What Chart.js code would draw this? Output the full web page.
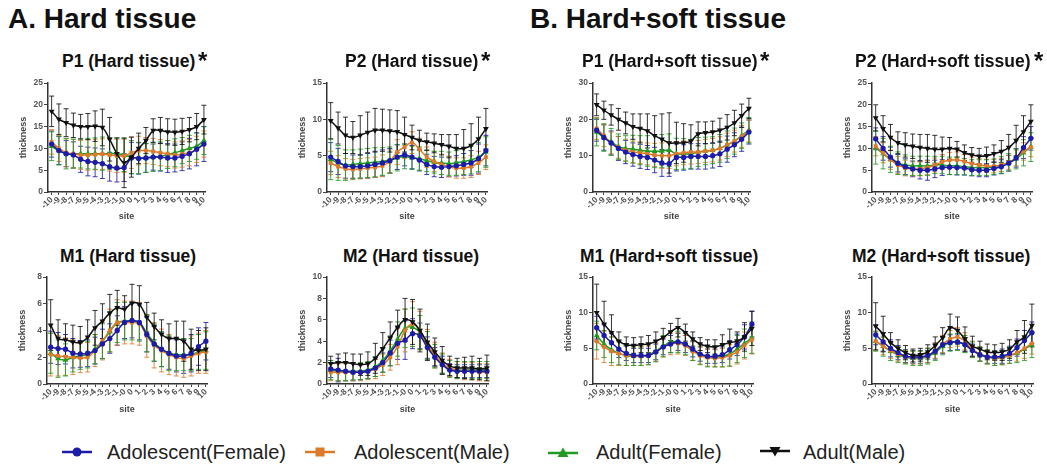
<!DOCTYPE html>
<html><head><meta charset="utf-8">
<script src="https://cdn.jsdelivr.net/npm/chart.js@4"></script>
<style>
body{margin:0;background:#fff;width:1047px;height:474px;position:relative;overflow:hidden;font-family:"Liberation Sans",Arial,sans-serif;}
.main{position:absolute;font-weight:bold;font-size:28px;line-height:30px;color:#111;top:4px;white-space:nowrap;}
.ptitle{position:absolute;font-weight:bold;font-size:17.5px;line-height:20px;color:#111;white-space:nowrap;}
.star{position:absolute;font-weight:bold;font-size:24px;line-height:24px;color:#111;}
canvas{position:absolute;}
.leg{position:absolute;top:440px;font-size:20px;line-height:24px;color:#222;white-space:nowrap;}
.legm{position:absolute;top:445px;}
</style></head>
<body>
<div class="main" style="left:8px">A. Hard tissue</div>
<div class="main" style="left:530px">B. Hard+soft tissue</div>
<div id="wrap"></div>

<svg class="legm" style="left:62px" width="30" height="14"><line x1="0" y1="7" x2="30" y2="7" stroke="#1c1ca8" stroke-width="2.5"/><circle cx="15" cy="7" r="4.5" fill="#1c1ca8"/></svg>
<div class="leg" style="left:107px">Adolescent(Female)</div>
<svg class="legm" style="left:305px" width="30" height="14"><line x1="0" y1="7" x2="30" y2="7" stroke="#dd7a2a" stroke-width="2.5"/><rect x="10.5" y="2.5" width="9" height="9" fill="#dd7a2a"/></svg>
<div class="leg" style="left:354px">Adolescent(Male)</div>
<svg class="legm" style="left:548px" width="30" height="14"><line x1="0" y1="8" x2="30" y2="8" stroke="#229a22" stroke-width="2.5"/><polygon points="15,2.5 20.5,12 9.5,12" fill="#229a22"/></svg>
<div class="leg" style="left:596px">Adult(Female)</div>
<svg class="legm" style="left:760px" width="30" height="14"><line x1="0" y1="6" x2="30" y2="6" stroke="#111" stroke-width="2.5"/><polygon points="9.5,2 20.5,2 15,11.5" fill="#111"/></svg>
<div class="leg" style="left:803px">Adult(Male)</div>

<script>
const sites = ["-10","-9","-8","-7","-6","-5","-4","-3","-2","-1","-0","0","1","2","3","4","5","6","7","8","9","10"];
const seriesNames = ["Adolescent(Female)","Adolescent(Male)","Adult(Female)","Adult(Male)"];
const seriesColors = ["#1c1ca8","#dd7a2a","#229a22","#111111"];

// ---- A. Hard tissue, P1 ----
const hP1_adoF = [11.0,9.5,8.8,8.5,7.5,7.0,6.8,6.5,5.8,5.5,5.6,7.8,7.7,7.8,8.0,8.0,7.8,7.8,8.2,8.8,9.8,11.0];
const hP1_adoM = [11.5,10.0,9.0,8.8,8.5,8.5,8.6,8.7,8.5,8.3,8.3,9.0,9.5,9.5,9.3,9.0,8.8,8.5,8.7,9.0,9.8,11.0];
const hP1_aduF = [10.5,9.5,8.8,8.8,8.8,8.8,8.8,8.8,8.8,8.8,8.5,8.0,7.8,7.8,8.0,8.2,8.6,9.0,9.5,10.0,10.5,11.8];
const hP1_aduM = [18.5,16.7,15.9,15.3,15.0,15.0,15.1,14.8,12.1,8.8,6.7,8.0,10.0,11.8,14.1,14.1,13.8,13.7,13.9,14.3,15.0,16.6];
const hP1_adoF_sd = [3.0,3.2,3.0,3.0,3.0,3.3,3.3,3.4,3.3,3.2,3.2,3.6,3.6,3.3,3.0,3.2,3.3,3.2,3.3,3.5,3.8,4.0];
const hP1_adoM_sd = [2.8,3.0,3.2,3.3,3.3,3.5,3.5,3.5,3.7,3.8,3.8,3.6,3.3,3.0,3.0,3.0,3.0,3.0,3.0,3.0,3.0,3.0];
const hP1_aduF_sd = [3.3,3.3,3.5,3.3,3.3,3.5,3.6,3.8,3.6,3.6,3.8,3.8,3.6,3.3,3.3,3.3,3.2,3.2,3.0,3.0,3.0,3.2];
const hP1_aduM_sd = [3.5,3.5,3.2,2.8,2.8,3.0,3.5,4.2,5.0,3.6,5.7,4.6,3.5,3.0,2.7,3.0,3.0,3.0,3.0,2.8,3.0,3.3];

// ---- A. Hard tissue, P2 ----
const hP2_adoF = [4.8,4.2,3.6,3.5,3.5,3.6,3.8,4.0,4.3,4.8,5.1,4.8,4.4,3.8,3.5,3.4,3.5,3.6,3.8,4.0,4.6,5.7];
const hP2_adoM = [4.0,3.5,3.2,3.1,3.2,3.3,3.4,3.6,4.2,5.5,6.2,6.8,5.9,4.8,4.2,3.8,3.5,3.3,3.3,3.5,4.0,4.8];
const hP2_aduF = [4.5,4.0,3.7,3.8,3.9,4.0,4.1,4.2,4.4,4.7,4.9,4.7,4.6,4.3,4.1,4.0,3.9,4.0,4.2,4.4,4.8,5.5];
const hP2_aduM = [9.8,8.8,7.8,7.5,7.8,8.2,8.5,8.5,8.4,8.3,7.9,7.5,7.1,6.9,6.7,6.5,6.3,6.0,6.0,6.4,7.3,8.7];
const hP2_adoF_sd = [2.0,1.8,1.7,1.6,1.6,1.7,1.8,1.8,1.7,1.7,1.5,1.6,1.5,1.4,1.4,1.4,1.4,1.4,1.5,1.7,2.0,2.1];
const hP2_adoM_sd = [1.6,1.5,1.4,1.4,1.4,1.4,1.4,1.5,1.6,1.7,1.6,1.5,1.5,1.4,1.4,1.4,1.4,1.4,1.4,1.5,1.6,1.7];
const hP2_aduF_sd = [2.8,2.4,2.1,2.0,2.0,2.0,2.0,1.9,1.8,1.8,1.7,1.6,1.6,1.5,1.5,1.6,1.6,1.7,1.8,1.9,2.0,2.1];
const hP2_aduM_sd = [2.5,2.2,2.5,2.2,2.7,2.8,3.0,2.9,2.9,2.9,2.4,1.7,1.4,1.2,1.3,1.4,1.6,1.9,2.6,3.0,3.0,2.8];

// ---- A. Hard tissue, M1 ----
const hM1_adoF = [2.75,2.65,2.6,2.3,2.25,2.3,2.5,3.0,3.4,4.0,4.6,4.75,4.6,3.7,3.0,2.6,2.3,2.1,2.1,2.3,2.8,3.2];
const hM1_adoM = [2.2,2.1,2.05,2.0,1.95,2.0,2.5,3.2,4.0,4.6,4.6,4.6,4.5,3.6,2.9,2.5,2.2,2.0,1.9,2.1,2.3,2.4];
const hM1_aduF = [2.3,1.9,1.8,2.0,2.1,2.2,2.6,3.2,3.9,4.6,4.7,4.7,4.6,3.8,3.1,2.6,2.3,2.2,2.2,2.2,2.4,2.5];
const hM1_aduM = [4.4,3.4,3.3,3.15,3.1,3.5,4.2,4.7,5.3,5.7,5.6,6.05,5.95,5.0,4.3,3.7,3.4,3.4,3.2,2.6,2.5,2.6];
const hM1_adoF_sd = [1.2,1.2,1.1,1.1,1.0,1.0,1.0,1.1,1.1,1.1,1.2,1.3,1.3,1.3,1.3,1.3,1.2,1.2,1.3,1.4,1.4,1.4];
const hM1_adoM_sd = [1.6,1.5,1.4,1.3,1.1,1.1,1.2,1.4,1.6,1.7,1.6,1.6,1.6,1.6,1.7,1.6,1.5,1.4,1.4,1.5,1.5,1.6];
const hM1_aduF_sd = [1.5,1.4,1.2,1.1,1.0,1.0,1.1,1.3,1.5,1.5,1.4,1.4,1.4,1.4,1.4,1.3,1.3,1.2,1.2,1.2,1.3,1.4];
const hM1_aduM_sd = [1.9,1.4,1.2,1.25,1.2,1.3,1.3,1.3,1.4,1.3,1.0,1.4,1.4,1.1,1.0,1.1,1.1,1.3,1.5,1.5,1.5,1.6];

// ---- A. Hard tissue, M2 ----
const hM2_adoF = [1.4,1.3,1.2,1.1,1.1,1.2,1.5,2.0,2.9,3.8,4.1,4.7,4.5,3.4,2.5,1.8,1.3,1.2,1.2,1.2,1.2,1.2];
const hM2_adoM = [1.1,1.1,1.1,1.1,1.1,1.2,1.4,1.8,2.5,3.5,5.0,5.6,5.0,3.7,2.7,1.9,1.5,1.3,1.2,1.2,1.1,1.1];
const hM2_aduF = [1.3,1.2,1.2,1.2,1.2,1.3,1.6,2.2,3.1,4.2,5.2,5.3,4.8,3.6,2.6,1.9,1.4,1.3,1.3,1.3,1.3,1.3];
const hM2_aduM = [1.9,2.0,2.0,1.9,1.8,1.9,2.4,3.3,4.3,5.3,6.0,5.8,5.0,3.9,3.0,2.2,1.7,1.5,1.5,1.5,1.4,1.5];
const hM2_adoF_sd = [0.8,1.1,0.9,0.8,0.7,0.7,0.8,0.9,1.2,1.5,1.8,1.4,1.2,1.0,0.9,0.8,0.6,0.6,0.6,0.6,0.6,0.6];
const hM2_adoM_sd = [0.8,0.8,0.8,0.8,0.8,0.8,0.9,1.0,1.2,1.7,2.0,2.1,1.8,1.4,1.2,1.0,0.8,0.8,0.8,0.8,0.8,0.8];
const hM2_aduF_sd = [0.9,0.9,0.9,0.8,0.8,0.8,0.9,1.1,1.4,1.6,1.8,1.8,1.6,1.3,1.1,0.9,0.8,0.8,0.8,0.8,0.8,0.8];
const hM2_aduM_sd = [0.7,0.8,0.9,0.9,1.0,1.1,1.4,1.5,1.5,1.6,2.0,2.1,2.0,1.7,1.3,1.3,0.9,0.9,1.0,1.1,1.0,1.2];

// ---- B. Hard+soft tissue, P1 ----
const sP1_adoF = [17.0,15.0,13.5,12.0,11.0,10.3,9.8,9.5,8.8,8.0,7.8,9.5,9.5,9.8,9.8,9.8,10.0,10.5,11.8,13.0,14.5,16.5];
const sP1_adoM = [17.5,15.5,13.5,12.3,11.5,11.0,10.8,10.5,10.2,10.0,10.0,10.5,10.8,11.0,11.0,11.3,11.5,12.0,13.0,14.0,15.3,16.8];
const sP1_aduF = [16.5,15.0,13.8,12.5,12.0,11.8,11.5,11.3,11.2,11.3,11.5,10.5,10.5,10.5,11.0,11.3,11.5,12.0,13.0,14.0,15.5,17.0];
const sP1_aduM = [24.0,22.5,21.2,20.0,19.0,18.0,17.5,16.8,15.5,14.5,13.5,13.5,13.5,14.0,16.0,16.3,16.5,17.0,17.8,19.0,21.0,23.0];
const sP1_adoF_sd = [3.0,3.5,3.3,3.3,3.2,3.2,3.3,3.3,3.5,3.7,3.5,3.7,3.5,3.5,3.5,3.5,3.4,3.5,3.6,3.3,3.3,3.3];
const sP1_adoM_sd = [3.0,3.0,3.0,3.0,3.0,3.0,3.0,3.0,3.2,3.5,3.5,3.3,3.3,3.3,3.2,3.2,3.2,3.2,3.2,3.0,3.0,3.0];
const sP1_aduF_sd = [3.8,3.8,3.7,3.5,3.5,3.8,4.0,4.2,4.5,4.5,4.5,4.3,4.2,4.0,4.0,3.8,3.7,3.8,3.8,3.6,3.5,3.5];
const sP1_aduM_sd = [3.0,2.5,2.8,3.0,3.0,3.5,4.0,4.7,5.5,7.0,8.3,5.7,5.3,4.5,3.3,3.0,3.0,3.3,3.5,3.5,3.2,2.8];

// ---- B. Hard+soft tissue, P2 ----
const sP2_adoF = [12.2,10.0,8.0,6.6,5.8,5.3,5.0,5.0,5.3,5.6,5.7,5.6,5.5,5.1,5.0,5.0,5.4,5.8,6.6,7.8,10.2,12.3];
const sP2_adoM = [10.5,9.0,7.4,6.2,5.5,5.3,5.3,5.6,6.2,6.9,7.3,7.4,7.0,6.5,6.2,6.0,5.9,6.2,6.8,7.8,9.3,10.3];
const sP2_aduF = [10.2,8.8,7.5,6.6,6.2,6.0,6.0,6.0,6.2,6.2,6.0,6.0,5.8,5.6,5.6,5.6,5.8,6.2,6.8,7.6,9.0,10.3];
const sP2_aduM = [17.0,14.5,12.5,11.3,10.8,10.5,10.2,10.0,9.8,9.8,10.0,9.8,9.0,8.5,8.2,8.3,8.8,9.3,10.2,11.8,13.8,16.2];
const sP2_adoF_sd = [2.5,2.7,2.3,2.0,1.8,1.8,2.0,2.3,2.0,1.8,1.7,1.7,1.6,1.4,1.5,1.5,1.5,1.6,1.8,2.1,2.5,2.7];
const sP2_adoM_sd = [2.2,2.3,2.2,2.0,1.8,1.6,1.6,1.6,1.6,1.7,1.8,1.8,1.6,1.5,1.5,1.5,1.5,1.5,1.6,1.8,2.0,2.2];
const sP2_aduF_sd = [3.8,3.5,3.0,2.6,2.3,2.2,2.2,2.2,2.0,2.0,2.0,2.0,1.9,1.8,1.8,1.8,1.8,1.9,2.0,2.3,3.0,3.3];
const sP2_aduM_sd = [3.0,3.0,3.0,2.5,2.8,2.8,3.0,3.2,3.2,2.8,2.5,1.8,1.8,1.7,1.8,2.0,2.0,2.5,3.0,3.5,3.7,3.8];

// ---- B. Hard+soft tissue, M1 ----
const sM1_adoF = [7.9,6.8,5.8,4.9,4.3,4.0,4.0,4.0,4.5,5.2,5.6,5.9,5.6,4.9,4.2,3.9,3.9,4.1,4.8,5.5,6.6,8.4];
const sM1_adoM = [6.0,5.2,4.6,4.3,4.0,3.9,3.9,4.0,4.5,5.2,5.6,5.7,5.4,4.6,4.0,3.7,3.6,3.7,4.0,4.5,5.4,6.2];
const sM1_aduF = [6.8,5.6,4.8,4.3,4.0,3.9,3.9,4.1,4.6,5.3,5.9,5.9,5.6,4.7,4.1,3.8,3.8,3.9,4.2,4.9,5.7,6.5];
const sM1_aduM = [10.0,8.4,7.2,6.0,5.5,5.4,5.5,5.6,6.0,6.5,7.3,7.9,7.2,6.3,5.6,5.3,5.2,5.5,5.8,6.0,6.6,7.8];
const sM1_adoF_sd = [1.6,1.5,1.3,1.2,1.0,1.0,1.0,1.0,1.1,1.1,1.2,1.2,1.2,1.1,1.0,1.0,1.0,1.1,1.3,1.5,1.7,1.8];
const sM1_adoM_sd = [2.5,2.2,2.0,1.7,1.4,1.3,1.3,1.3,1.3,1.4,1.5,1.5,1.4,1.3,1.2,1.2,1.2,1.3,1.5,1.7,1.9,2.0];
const sM1_aduF_sd = [2.0,1.9,1.8,1.6,1.4,1.3,1.3,1.4,1.5,1.5,1.5,1.5,1.5,1.4,1.4,1.4,1.4,1.5,1.7,1.9,2.0,2.2];
const sM1_aduM_sd = [4.0,3.2,2.5,1.3,1.1,1.1,1.1,1.2,1.3,1.3,1.2,1.3,1.2,1.0,0.9,0.9,1.0,1.4,1.9,1.3,2.0,2.4];

// ---- B. Hard+soft tissue, M2 ----
const sM2_adoF = [6.9,5.9,5.0,4.4,3.9,3.8,3.8,4.0,4.6,5.5,5.8,5.9,5.5,4.7,4.1,3.8,3.8,3.9,4.3,5.1,6.1,7.2];
const sM2_adoM = [6.0,5.3,4.7,4.2,3.8,3.7,3.7,4.0,4.7,5.6,6.3,6.6,6.0,4.9,4.2,3.8,3.6,3.7,4.0,4.4,5.0,5.7];
const sM2_aduF = [6.0,5.3,4.6,4.1,3.8,3.6,3.6,3.9,4.4,5.3,5.8,5.9,5.6,4.8,4.2,3.8,3.6,3.7,4.0,4.3,4.9,5.5];
const sM2_aduM = [8.1,7.0,5.8,5.0,4.4,4.0,4.1,4.5,5.4,6.5,7.9,7.5,6.3,5.3,4.9,4.5,4.4,4.5,4.9,5.9,6.6,8.2];
const sM2_adoF_sd = [1.4,1.3,1.2,1.0,0.9,0.9,0.9,1.0,1.1,1.2,1.1,1.1,1.0,0.9,0.9,0.9,0.9,1.0,1.0,1.2,1.4,1.5];
const sM2_adoM_sd = [1.3,1.2,1.1,1.0,0.9,0.9,0.9,1.0,1.1,1.2,1.2,1.3,1.2,1.1,1.0,1.0,1.0,1.0,1.1,1.2,1.4,1.5];
const sM2_aduF_sd = [1.4,1.4,1.3,1.1,1.0,1.0,1.0,1.1,1.1,1.2,1.2,1.2,1.2,1.1,1.0,1.0,1.0,1.0,1.1,1.3,1.6,1.8];
const sM2_aduM_sd = [3.3,2.5,1.4,1.2,1.0,0.9,0.9,1.0,1.2,1.4,1.9,1.9,1.7,1.4,1.1,1.1,1.1,1.2,1.3,1.6,2.3,3.0];

// Panel layout (chart-area pixel boxes)
const panels = [
  {title:"P1 (Hard tissue)", star:true, tL:62, sL:198, row:0, aL:48, aR:205, ymax:25, step:5,
   means:[hP1_adoF,hP1_adoM,hP1_aduF,hP1_aduM], sds:[hP1_adoF_sd,hP1_adoM_sd,hP1_aduF_sd,hP1_aduM_sd]},
  {title:"P2 (Hard tissue)", star:true, tL:345, sL:481, row:0, aL:327, aR:487, ymax:15, step:5,
   means:[hP2_adoF,hP2_adoM,hP2_aduF,hP2_aduM], sds:[hP2_adoF_sd,hP2_adoM_sd,hP2_aduF_sd,hP2_aduM_sd]},
  {title:"P1 (Hard+soft tissue)", star:true, tL:582, sL:760, row:0, aL:593, aR:750, ymax:30, step:10,
   means:[sP1_adoF,sP1_adoM,sP1_aduF,sP1_aduM], sds:[sP1_adoF_sd,sP1_adoM_sd,sP1_aduF_sd,sP1_aduM_sd]},
  {title:"P2 (Hard+soft tissue)", star:true, tL:855, sL:1034, row:0, aL:872, aR:1032, ymax:25, step:5,
   means:[sP2_adoF,sP2_adoM,sP2_aduF,sP2_aduM], sds:[sP2_adoF_sd,sP2_adoM_sd,sP2_aduF_sd,sP2_aduM_sd]},
  {title:"M1 (Hard tissue)", star:false, tL:60, row:1, aL:47, aR:207, ymax:8, step:2,
   means:[hM1_adoF,hM1_adoM,hM1_aduF,hM1_aduM], sds:[hM1_adoF_sd,hM1_adoM_sd,hM1_aduF_sd,hM1_aduM_sd]},
  {title:"M2 (Hard tissue)", star:false, tL:343, row:1, aL:327, aR:488, ymax:10, step:2,
   means:[hM2_adoF,hM2_adoM,hM2_aduF,hM2_aduM], sds:[hM2_adoF_sd,hM2_adoM_sd,hM2_aduF_sd,hM2_aduM_sd]},
  {title:"M1 (Hard+soft tissue)", star:false, tL:580, row:1, aL:593, aR:753, ymax:15, step:5,
   means:[sM1_adoF,sM1_adoM,sM1_aduF,sM1_aduM], sds:[sM1_adoF_sd,sM1_adoM_sd,sM1_aduF_sd,sM1_aduM_sd]},
  {title:"M2 (Hard+soft tissue)", star:false, tL:852, row:1, aL:872, aR:1033, ymax:15, step:5,
   means:[sM2_adoF,sM2_adoM,sM2_aduF,sM2_aduM], sds:[sM2_adoF_sd,sM2_adoM_sd,sM2_aduF_sd,sM2_aduM_sd]}
];
const rows = [{aT:83, aB:192, titleTop:51, xH:30}, {aT:277, aB:384, titleTop:246, xH:31}];

const pointStyles = ['circle','rect','triangle','triangle'];
const pointRot = [0,0,0,180];
const drawOrder = [1,2,3,0];

const errorBars = {
  id:'errorBars',
  beforeDatasetsDraw(chart){
    const ctx = chart.ctx, ys = chart.scales.y;
    chart.data.datasets.forEach((ds,di)=>{
      const meta = chart.getDatasetMeta(di);
      ctx.save();
      ctx.strokeStyle = ds.borderColor;
      ctx.globalAlpha = 0.85;
      ctx.lineWidth = 1;
      meta.data.forEach((pt,i)=>{
        const v = ds.data[i].y, e = ds.sd[i];
        const yt = ys.getPixelForValue(v+e), yb = ys.getPixelForValue(Math.max(v-e,0));
        ctx.beginPath();
        ctx.moveTo(pt.x, yt); ctx.lineTo(pt.x, yb);
        ctx.moveTo(pt.x-2.5, yt); ctx.lineTo(pt.x+2.5, yt);
        ctx.moveTo(pt.x-2.5, yb); ctx.lineTo(pt.x+2.5, yb);
        ctx.stroke();
      });
      ctx.restore();
    });
  }
};

const wrap = document.getElementById('wrap');
const tickFont = {family:'"Liberation Sans", Arial, sans-serif', size:8.5, weight:'bold'};
const axTitleFont = {family:'"Liberation Sans", Arial, sans-serif', size:9, weight:'bold'};
const Y_W = 30, PAD_T = 10, PAD_R = 8;

panels.forEach(p=>{
  const r = rows[p.row];
  const t = document.createElement('div');
  t.className = 'ptitle'; t.textContent = p.title;
  t.style.left = p.tL+'px'; t.style.top = r.titleTop+'px';
  document.body.appendChild(t);
  if (p.star){
    const s = document.createElement('div');
    s.className = 'star'; s.textContent = '*';
    s.style.left = p.sL+'px'; s.style.top = (r.titleTop-2)+'px';
    document.body.appendChild(s);
  }
  const cv = document.createElement('canvas');
  const W = (p.aR - p.aL) + Y_W + PAD_R;
  const H = PAD_T + (r.aB - r.aT) + r.xH;
  cv.width = W; cv.height = H;
  cv.style.width = W+'px'; cv.style.height = H+'px';
  cv.style.left = (p.aL - Y_W)+'px'; cv.style.top = (r.aT - PAD_T)+'px';
  wrap.appendChild(cv);

  const datasets = p.means.map((m,k)=>({
    label: seriesNames[k],
    data: m.map((v,i)=>({x:i, y:v})),
    sd: p.sds[k],
    borderColor: seriesColors[k],
    backgroundColor: seriesColors[k],
    borderWidth: 1.5,
    tension: 0.35,
    pointStyle: pointStyles[k],
    pointRotation: pointRot[k],
    pointRadius: k===1 ? 1.7 : 1.9,
    pointHoverRadius: 1.9,
    clip: false,
    order: drawOrder[k]
  }));

  new Chart(cv, {
    type:'line',
    data:{datasets},
    options:{
      responsive:false, animation:false, devicePixelRatio:1,
      layout:{padding:{top:PAD_T, right:PAD_R, left:0, bottom:0}},
      plugins:{legend:{display:false}, tooltip:{enabled:false}},
      scales:{
        x:{
          type:'linear', min:-0.5, max:21.15,
          afterFit: s=>{ s.height = r.xH; },
          afterBuildTicks: s=>{ s.ticks = sites.map((_,i)=>({value:i})); },
          ticks:{autoSkip:false, minRotation:45, maxRotation:45, padding:0, color:'#555', font:tickFont,
                 callback: v => sites[v]},
          grid:{display:true, drawOnChartArea:false, drawTicks:true, tickLength:3, color:'#444', lineWidth:1},
          border:{display:true, color:'#333', width:1.5},
          title:{display:true, text:'site', color:'#444', font:axTitleFont, padding:{top:0,bottom:0}}
        },
        y:{
          min:0, max:p.ymax,
          afterFit: s=>{ s.width = Y_W; },
          ticks:{stepSize:p.step, padding:1, color:'#555', font:tickFont},
          grid:{display:true, drawOnChartArea:false, drawTicks:true, tickLength:4, color:'#444', lineWidth:1},
          border:{display:true, color:'#333', width:1.5},
          title:{display:true, text:'thickness', color:'#444', font:axTitleFont, padding:{top:0,bottom:0}}
        }
      }
    },
    plugins:[errorBars]
  });
});
</script>
</body></html>
